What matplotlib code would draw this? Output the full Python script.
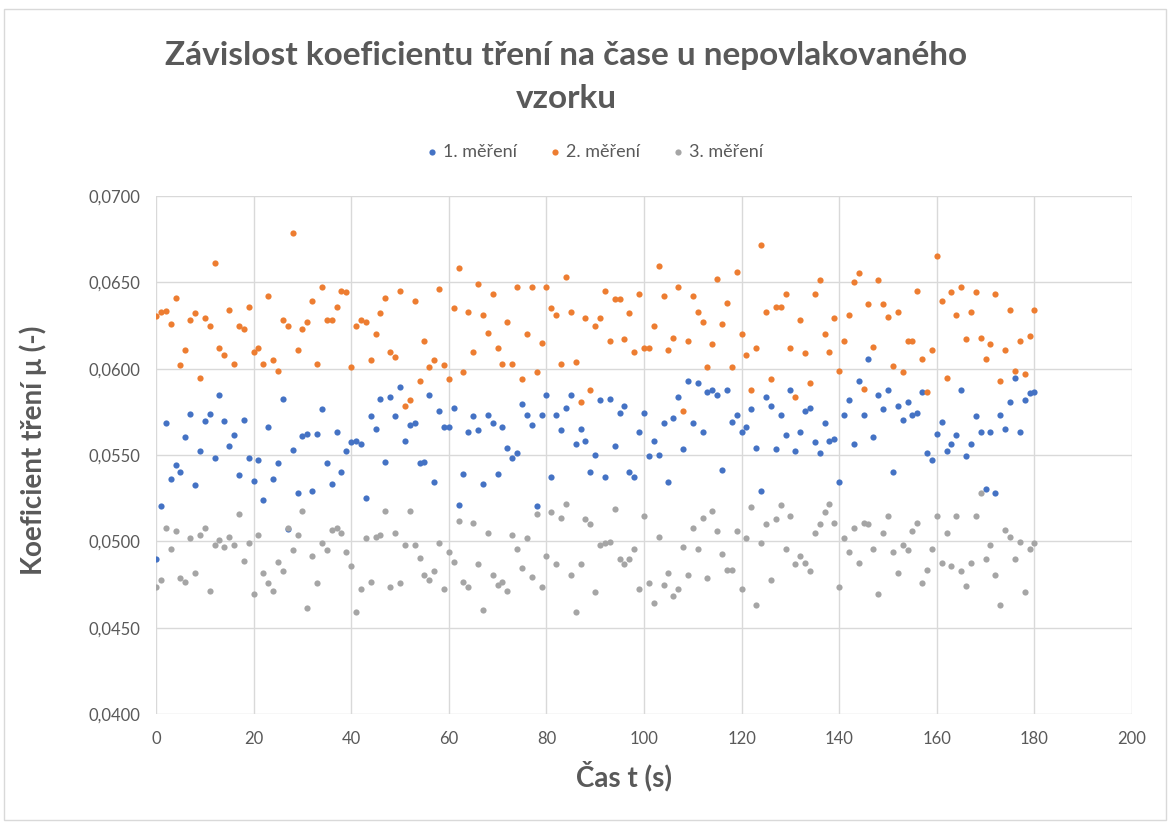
import numpy as np
import matplotlib
matplotlib.use('Agg')
import matplotlib.pyplot as plt
from matplotlib.ticker import FuncFormatter, MultipleLocator
from matplotlib.patches import Rectangle

plt.rcParams['font.family'] = ['Lato', 'DejaVu Sans']

# time (s)
cas = list(range(0, 181))

# friction coefficient values (in units of 1e-3)
mereni_1_e3 = [
    48.95, 52.02, 56.84, 53.60, 54.42, 54.01, 56.03, 57.36, 53.29, 55.23,
    56.96, 57.36, 54.83, 58.47, 56.96, 55.54, 56.14, 53.82, 57.05, 54.83,
    53.51, 54.73, 52.40, 56.65, 53.60, 54.52, 58.26, 50.70, 55.31, 52.81,
    56.12, 56.24, 52.89, 56.24, 57.65, 54.52, 53.31, 56.34, 54.01, 55.23,
    55.74, 55.83, 55.64, 52.50, 57.25, 56.53, 58.26, 54.61, 58.36, 57.25,
    58.95, 55.83, 56.74, 56.84, 54.52, 54.61, 58.45, 53.41, 57.54, 56.65,
    56.65, 57.75, 52.09, 53.91, 56.34, 57.25, 56.43, 53.31, 57.34, 56.84,
    53.91, 56.65, 55.43, 54.83, 55.14, 57.97, 57.34, 56.74, 52.02, 57.34,
    58.45, 53.72, 57.34, 56.43, 57.75, 58.47, 55.64, 56.53, 55.83, 54.01,
    55.02, 58.16, 53.72, 58.26, 55.52, 57.44, 57.85, 54.01, 53.72, 56.34,
    57.44, 54.92, 55.83, 55.02, 56.84, 53.41, 57.15, 58.36, 55.33, 59.26,
    56.84, 59.17, 56.34, 58.66, 58.76, 58.45, 54.13, 58.76, 56.94, 57.34,
    56.34, 56.65, 57.65, 55.43, 52.89, 58.36, 57.85, 55.33, 57.34, 56.14,
    58.76, 55.23, 56.34, 57.54, 57.75, 55.74, 55.14, 56.84, 55.83, 55.93,
    53.41, 57.34, 58.16, 55.64, 59.26, 57.34, 60.58, 56.03, 58.45, 57.65,
    58.76, 54.01, 57.85, 57.03, 58.06, 57.34, 57.44, 58.66, 55.14, 54.73,
    56.24, 56.94, 55.23, 55.64, 56.14, 58.76, 54.92, 55.64, 57.25, 56.34,
    53.02, 56.34, 52.81, 57.34, 56.53, 58.06, 59.46, 56.34, 58.16, 58.57,
    58.66,
]

mereni_2_e3 = [
    63.06, 63.26, 63.33, 62.60, 64.11, 60.19, 61.09, 62.81, 63.20, 59.48,
    62.91, 62.50, 66.14, 61.20, 60.79, 63.41, 60.29, 62.50, 62.31, 63.60,
    60.99, 61.22, 60.29, 64.21, 60.48, 59.88, 62.81, 62.50, 67.87, 61.09,
    62.31, 62.71, 63.91, 60.29, 64.73, 62.81, 62.81, 63.60, 64.52, 64.42,
    60.08, 62.50, 62.81, 62.71, 60.48, 62.00, 63.20, 64.11, 60.99, 60.68,
    64.52, 57.85, 58.16, 63.91, 59.26, 61.59, 60.08, 60.48, 64.63, 60.19,
    59.38, 63.51, 65.83, 59.79, 63.31, 60.99, 64.92, 63.10, 62.09, 64.32,
    61.20, 60.29, 62.71, 60.29, 64.73, 59.38, 62.00, 64.73, 59.79, 61.49,
    64.73, 63.51, 63.10, 60.29, 65.33, 63.31, 60.39, 58.08, 62.91, 58.78,
    62.50, 62.91, 64.52, 61.59, 64.01, 64.01, 61.69, 63.20, 60.99, 64.32,
    61.18, 61.18, 62.50, 65.93, 64.21, 61.09, 61.78, 64.73, 57.54, 61.59,
    64.21, 63.31, 62.71, 60.08, 61.40, 65.21, 62.60, 63.80, 60.08, 65.62,
    62.00, 60.79, 58.78, 61.18, 67.15, 63.31, 59.38, 63.60, 63.60, 64.32,
    61.18, 58.36, 62.81, 60.89, 59.17, 64.32, 65.14, 62.00, 60.99, 62.91,
    59.88, 61.59, 63.10, 65.02, 65.52, 58.84, 63.72, 61.28, 65.14, 63.72,
    63.00, 60.17, 63.31, 59.79, 61.59, 61.59, 64.52, 60.58, 58.66, 61.09,
    66.55, 63.91, 59.48, 64.42, 63.10, 64.73, 61.69, 63.31, 64.42, 61.78,
    60.58, 61.40, 64.32, 59.26, 61.09, 63.41, 59.88, 61.59, 59.67, 61.90,
    63.41,
]

mereni_3_e3 = [
    47.36, 47.75, 50.78, 49.57, 50.58, 47.85, 47.66, 50.17, 48.18, 50.37,
    50.78, 47.15, 49.77, 50.08, 49.67, 50.27, 49.77, 51.59, 48.88, 49.88,
    46.94, 50.37, 48.18, 47.56, 47.15, 48.78, 48.26, 50.78, 49.48, 50.37,
    51.78, 46.12, 49.17, 47.56, 49.88, 49.48, 50.68, 50.78, 50.48, 49.36,
    48.57, 45.93, 47.25, 50.17, 47.66, 50.27, 50.37, 51.78, 47.35, 50.47,
    47.56, 49.77, 51.78, 49.77, 49.05, 48.06, 47.75, 48.26, 49.88, 47.25,
    49.36, 48.78, 51.18, 47.66, 47.35, 51.09, 48.66, 46.05, 50.47, 48.06,
    47.46, 47.66, 47.15, 50.37, 49.57, 48.47, 50.17, 47.95, 51.59, 47.35,
    49.17, 51.69, 48.66, 51.38, 52.19, 48.06, 45.93, 48.66, 51.28, 50.99,
    47.05, 49.77, 49.88, 49.98, 51.88, 48.95, 48.66, 48.95, 49.57, 47.25,
    51.47, 47.56, 46.43, 50.27, 47.46, 48.16, 46.84, 47.25, 49.67, 48.06,
    50.78, 49.57, 51.38, 47.85, 51.78, 50.58, 49.26, 48.35, 48.35, 50.58,
    47.25, 50.17, 51.99, 46.34, 49.88, 50.99, 47.75, 51.28, 52.09, 49.57,
    51.47, 48.66, 49.17, 48.76, 48.26, 50.48, 50.99, 51.69, 52.19, 51.09,
    47.35, 50.17, 49.36, 50.78, 48.76, 51.09, 50.99, 49.57, 46.94, 50.48,
    51.47, 49.36, 48.16, 49.77, 49.48, 50.58, 51.09, 47.56, 48.35, 49.57,
    51.47, 48.76, 50.48, 48.57, 51.47, 48.26, 47.44, 48.76, 51.47, 52.81,
    48.95, 49.77, 48.06, 46.34, 50.68, 50.27, 48.95, 49.96, 47.05, 49.57,
    49.88,
]

serie_nazvy = ['1. měření', '2. měření', '3. měření']
serie_barvy = ['#4472C4', '#ED7D31', '#A5A5A5']
serie_data = [np.array(mereni_1_e3) / 1000,
              np.array(mereni_2_e3) / 1000,
              np.array(mereni_3_e3) / 1000]

TEXT = '#595959'
W, H = 1172, 825

fig = plt.figure(figsize=(W / 100, H / 100), dpi=100)
ax = fig.add_axes([156 / W, 1 - 714 / H, (1132 - 156) / W, (714 - 196) / H])

for nazev, barva, data in zip(serie_nazvy, serie_barvy, serie_data):
    ax.scatter(cas, data, s=20, color=barva, label=nazev, linewidths=0, zorder=3)

ax.set_xlim(0, 200)
ax.set_ylim(0.04, 0.07)
ax.xaxis.set_major_locator(MultipleLocator(20))
ax.yaxis.set_major_locator(MultipleLocator(0.005))
ax.yaxis.set_major_formatter(FuncFormatter(lambda v, p: f'{v:.4f}'.replace('.', ',')))
ax.grid(True, color='#d9d9d9', linewidth=1)
ax.set_axisbelow(True)
for s in ax.spines.values():
    s.set_visible(False)
ax.tick_params(axis='both', length=0, labelsize=12, colors=TEXT)
ax.tick_params(axis='x', pad=12)
ax.tick_params(axis='y', pad=11)

fig.text(566 / W, 1 - 55 / H,
         'Závislost koeficientu tření na čase u nepovlakovaného',
         ha='center', va='center', fontsize=24, fontweight='bold', color=TEXT)
fig.text(566 / W, 1 - 98 / H, 'vzorku',
         ha='center', va='center', fontsize=24, fontweight='bold', color=TEXT)

fig.legend(loc='center', bbox_to_anchor=(593 / W, 1 - 152 / H), ncol=3,
           frameon=False, fontsize=13, handletextpad=0.1, columnspacing=1.6,
           markerscale=1.0, labelcolor=TEXT, handlelength=1.0)

fig.text(33 / W, 1 - 450 / H, 'Koeficient tření μ (-)', rotation=90,
         ha='center', va='center', fontsize=20, fontweight='bold', color=TEXT)
fig.text(624 / W, 1 - 776 / H, 'Čas t (s)', ha='center', va='center',
         fontsize=20, fontweight='bold', color=TEXT)

fig.add_artist(Rectangle((4 / W, 1 - 820 / H), (1166 - 4) / W, (820 - 9) / H,
                         transform=fig.transFigure, fill=False,
                         edgecolor='#d9d9d9', linewidth=1))

fig.savefig('out.png', dpi=100)
